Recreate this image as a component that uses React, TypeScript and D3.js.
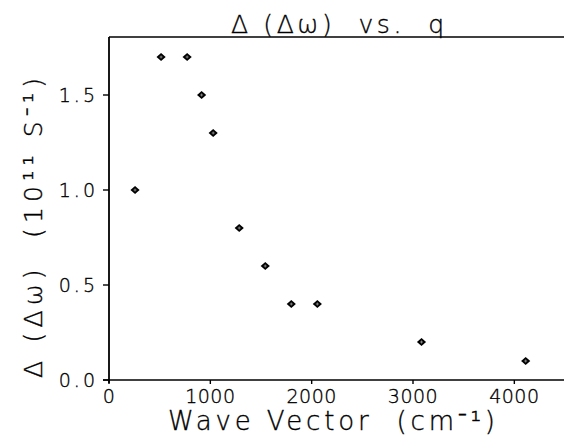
import React from "react";
import * as d3 from "d3";

const waveVector = [257, 514, 771, 914, 1028, 1285, 1542, 1799, 2056, 3084, 4112];
const deltaOmega = [1.0, 1.7, 1.7, 1.5, 1.3, 0.8, 0.6, 0.4, 0.4, 0.2, 0.1];
const xTicks = [0, 1000, 2000, 3000, 4000];
const yTicks = [0.0, 0.5, 1.0, 1.5];

const W = 564;
const H = 438;
const FONT = "'DejaVu Sans', sans-serif";
const pre: React.CSSProperties = { whiteSpace: "pre" };

export default function App() {
  const x = d3.scaleLinear().domain([0, 4500]).range([109, 565]);
  const y = d3.scaleLinear().domain([0, 1.8]).range([380, 38]);
  const top = 37;
  const x0 = x(0);
  const y0 = y(0);

  return (
    <svg
      width={W}
      height={H}
      style={{ position: "absolute", left: 0, top: 0, background: "#fff" }}
      fontFamily={FONT}
      fontWeight={200}
    >
      <rect x={0} y={0} width={W} height={H} fill="#fff" />
      {/* frame */}
      <line x1={x0} y1={top} x2={W} y2={top} stroke="#000" strokeWidth={1.6} />
      <line x1={x0} y1={top} x2={x0} y2={y0 + 3} stroke="#000" strokeWidth={1.8} />
      <line x1={x0 - 6} y1={y0} x2={W} y2={y0} stroke="#000" strokeWidth={1.6} />

      <g stroke="#000" strokeWidth={0.35} fill="#000">
        {/* y ticks */}
        {yTicks.map((t) => (
          <g key={"y" + t}>
            <line x1={x0 - 6} x2={x0} y1={y(t)} y2={y(t)} stroke="#000" strokeWidth={1.4} />
            <text x={98} y={y(t) + 7} textAnchor="end" fontSize={19} letterSpacing={3}>
              {t.toFixed(1)}
            </text>
          </g>
        ))}

        {/* x ticks */}
        {xTicks.map((t) => (
          <g key={"x" + t}>
            <line x1={x(t)} x2={x(t)} y1={y0} y2={y0 + 4} stroke="#000" strokeWidth={1.4} />
            <text x={x(t)} y={403} textAnchor="middle" fontSize={19} letterSpacing={0.5}>
              {t}
            </text>
          </g>
        ))}

        {/* title */}
        <text x={231} y={33} fontSize={25} textLength={213} lengthAdjust="spacing" style={pre}>
          {"Δ (Δω)  vs.  q"}
        </text>

        {/* x label */}
        <text x={168} y={430} fontSize={26} textLength={327} lengthAdjust="spacing" style={pre}>
          {"Wave Vector  (cm⁻¹)"}
        </text>

        {/* y label */}
        <text
          transform={`translate(42,378) rotate(-90)`}
          x={0}
          y={0}
          fontSize={25}
          textLength={300}
          lengthAdjust="spacing"
          style={pre}
        >
          {"Δ (Δω)  (10¹¹ S⁻¹)"}
        </text>
      </g>

      {/* markers */}
      {waveVector.map((q, i) => {
        const cx = x(q);
        const cy = y(deltaOmega[i]);
        return (
          <g key={"p" + i}>
            <path
              d={`M${cx - 4.6},${cy} L${cx},${cy - 4} L${cx + 4.6},${cy} L${cx},${cy + 4} Z`}
              fill="#000"
            />
            <line x1={cx - 1.5} x2={cx + 1.5} y1={cy} y2={cy} stroke="#999" strokeWidth={0.8} />
            <line x1={cx} x2={cx} y1={cy - 1.5} y2={cy + 1.5} stroke="#999" strokeWidth={0.8} />
          </g>
        );
      })}
    </svg>
  );
}
